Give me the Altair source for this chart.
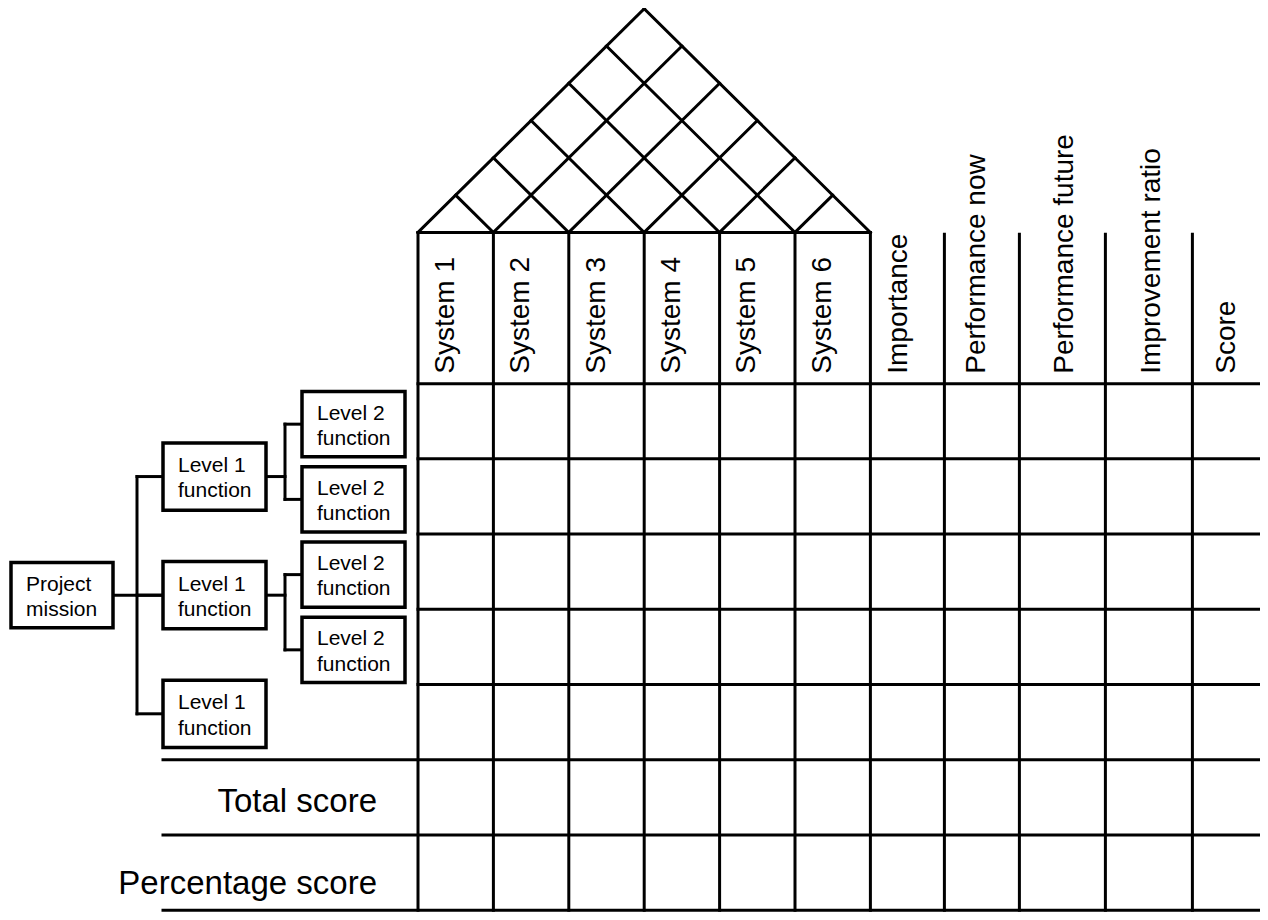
import altair as alt
import pandas as pd

# ---------------- data ----------------
systems = ["System 1", "System 2", "System 3", "System 4", "System 5", "System 6"]
criteria = ["Importance", "Performance now", "Performance future", "Improvement ratio", "Score"]
summary_rows = ["Total score", "Percentage score"]
mission = "Project mission"
level1_functions = ["Level 1 function", "Level 1 function", "Level 1 function"]
level2_functions = ["Level 2 function", "Level 2 function", "Level 2 function", "Level 2 function"]
level2_parent = [0, 0, 1, 1]

# ---------------- layout (reference frame units) ----------------
FRAME_X = (8, 1260)
FRAME_Y = (6, 920.5)
GRID_X0 = 418
COL_W = 75.4
HEAD_TOP = 233
CRIT_TOP = 235
HEAD_BOT = 386
ROW_H = 76.1
CRIT_W = [74, 75, 86, 87]
CRIT_LABEL_DX = [37, 41, 54, 55, 43]
SYS_LABEL_DX = -2
LABEL_BASE = 376
SUMMARY_LEFT = 163
SUMMARY_TEXT_X = 377
SUMMARY_BASE_DY = [53, 60]
PM_BOX = (11, 113, 33)       # left, right, half height
L1_BOX = (163, 266, 34)
L2_BOX = (302, 405)
L2_INSET = (8, 74)
TREE_MID = 600
L1_GAP = 120
TRUNK_X = 137
BRANCH_X = 285
TEXT_DX = 15
LINE1_DY = -4.5
LINE2_DY = 21

rules, boxes, box_text = [], [], []

def rule(x, y, x2, y2):
    rules.append(dict(x=x, y=y, x2=x2, y2=y2))

# system columns + roof
xs = [GRID_X0 + i * COL_W for i in range(len(systems) + 1)]
x0, xn = xs[0], xs[-1]
rule(x0, HEAD_TOP, xn, HEAD_TOP)
for i, xi in enumerate(xs):
    if i < len(systems):
        rule(xi, HEAD_TOP, (xi + xn) / 2, HEAD_TOP - (xn - xi) / 2)
    if i > 0:
        rule(xi, HEAD_TOP, (xi + x0) / 2, HEAD_TOP - (xi - x0) / 2)

# rows
n_leaves = len(level2_functions) + sum(1 for k in range(len(level1_functions)) if k not in level2_parent)
n_rows = n_leaves + len(summary_rows)
rows_y = [HEAD_BOT + j * ROW_H for j in range(n_rows + 1)]
bottom = rows_y[-1]

for xi in xs:
    rule(xi, HEAD_TOP, xi, bottom)

crit_bounds = [xn]
for w in CRIT_W:
    crit_bounds.append(crit_bounds[-1] + w)
for b in crit_bounds[1:]:
    rule(b, CRIT_TOP, b, bottom)

for j, yj in enumerate(rows_y):
    left = x0 if j < n_leaves else SUMMARY_LEFT
    rule(left, yj, FRAME_X[1], yj)

# header labels
sys_labels = pd.DataFrame(dict(
    x=[(xs[i] + xs[i + 1]) / 2 + SYS_LABEL_DX for i in range(len(systems))],
    y=[LABEL_BASE] * len(systems), text=systems))
crit_labels = pd.DataFrame(dict(
    x=[crit_bounds[i] + CRIT_LABEL_DX[i] for i in range(len(criteria))],
    y=[LABEL_BASE] * len(criteria), text=criteria))
head_labels = pd.concat([sys_labels, crit_labels])

summary = pd.DataFrame(dict(
    x=[SUMMARY_TEXT_X] * len(summary_rows),
    y=[rows_y[n_leaves + k] + SUMMARY_BASE_DY[k] for k in range(len(summary_rows))],
    text=summary_rows))

# tree
def add_box(left, right, top, btm, label):
    boxes.append(dict(x=left, x2=right, y=top, y2=btm))
    c = (top + btm) / 2
    a, b = label.rsplit(" ", 1)
    box_text.append(dict(x=left + TEXT_DX, y=c + LINE1_DY, text=a))
    box_text.append(dict(x=left + TEXT_DX, y=c + LINE2_DY, text=b))

add_box(PM_BOX[0], PM_BOX[1], TREE_MID - PM_BOX[2], TREE_MID + PM_BOX[2], mission)
rule(PM_BOX[1], TREE_MID, L1_BOX[0], TREE_MID)

n1 = len(level1_functions)
l1_c = [TREE_MID + (k - (n1 - 1) / 2) * L1_GAP for k in range(n1)]
rule(TRUNK_X, l1_c[0], TRUNK_X, l1_c[-1])
for k, lab in enumerate(level1_functions):
    rule(TRUNK_X, l1_c[k], L1_BOX[0], l1_c[k])
    add_box(L1_BOX[0], L1_BOX[1], l1_c[k] - L1_BOX[2], l1_c[k] + L1_BOX[2], lab)

for k in range(n1):
    kids = [m for m, p in enumerate(level2_parent) if p == k]
    if not kids:
        continue
    cs = [rows_y[m] + sum(L2_INSET) / 2 for m in kids]
    rule(L1_BOX[1], l1_c[k], BRANCH_X, l1_c[k])
    rule(BRANCH_X, min(cs), BRANCH_X, max(cs))
    for c in cs:
        rule(BRANCH_X, c, L2_BOX[0], c)

for m, lab in enumerate(level2_functions):
    add_box(L2_BOX[0], L2_BOX[1], rows_y[m] + L2_INSET[0], rows_y[m] + L2_INSET[1], lab)

# ---------------- chart ----------------
X = alt.X("x:Q", scale=alt.Scale(domain=list(FRAME_X), nice=False, zero=False), axis=None)
Y = alt.Y("y:Q", scale=alt.Scale(domain=list(FRAME_Y), nice=False, zero=False, reverse=True), axis=None)
FONT = "Liberation Sans"
INK = "#000000"

rule_layer = alt.Chart(pd.DataFrame(rules)).mark_rule(
    color=INK, strokeWidth=3, strokeCap="square").encode(x=X, y=Y, x2="x2:Q", y2="y2:Q")
box_layer = alt.Chart(pd.DataFrame(boxes)).mark_rect(
    fill="white", stroke=INK, strokeWidth=3.5).encode(x=X, y=Y, x2="x2:Q", y2="y2:Q")
box_text_layer = alt.Chart(pd.DataFrame(box_text)).mark_text(
    font=FONT, fontSize=21, align="left", baseline="alphabetic", color=INK).encode(x=X, y=Y, text="text:N")
head_layer = alt.Chart(head_labels).mark_text(
    font=FONT, fontSize=28, angle=270, align="left", baseline="alphabetic", color=INK).encode(x=X, y=Y, text="text:N")
summary_layer = alt.Chart(summary).mark_text(
    font=FONT, fontSize=33, align="right", baseline="alphabetic", color=INK).encode(x=X, y=Y, text="text:N")

chart = alt.layer(rule_layer, box_layer, box_text_layer, head_layer, summary_layer).properties(
    width=1252, height=904,
    autosize=alt.AutoSizeParams(type="none"), padding=0, background="white",
).configure_view(stroke=None)

chart.save("out.html", embed_options={"renderer": "svg", "actions": False})
